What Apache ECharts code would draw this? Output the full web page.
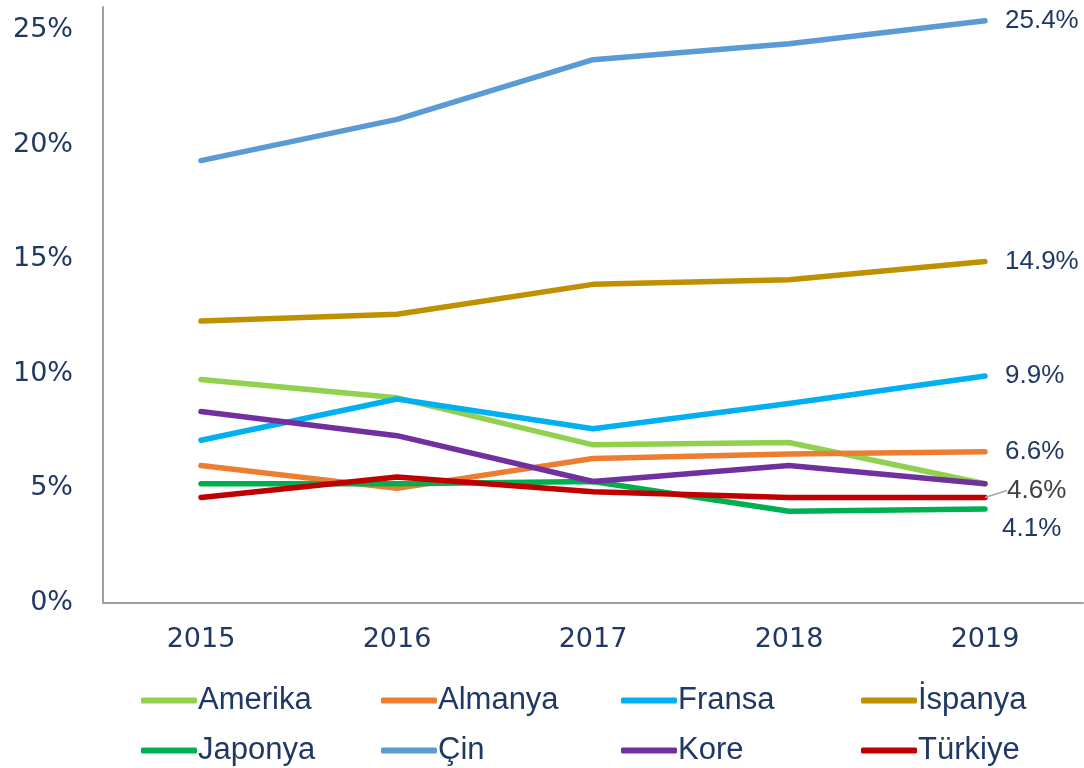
<!DOCTYPE html>
<html>
<head>
<meta charset="utf-8">
<script src="https://cdn.jsdelivr.net/npm/echarts@6/dist/echarts.min.js"></script>
<style>html,body{margin:0;padding:0;background:#fff;}#c{width:1084px;height:768px;}</style>
</head>
<body>
<div id="c"></div>
<script>
const years = ['2015', '2016', '2017', '2018', '2019'];
const seriesNames = ['Amerika', 'Almanya', 'Fransa', 'İspanya', 'Japonya', 'Çin', 'Kore', 'Türkiye'];
const amerika = [9.75, 8.95, 6.9, 7.0, 5.2];
const almanya = [6.0, 5.0, 6.3, 6.5, 6.6];
const fransa  = [7.1, 8.9, 7.6, 8.7, 9.9];
const ispanya = [12.3, 12.6, 13.9, 14.1, 14.9];
const japonya = [5.2, 5.2, 5.3, 4.0, 4.1];
const cin     = [19.3, 21.1, 23.7, 24.4, 25.4];
const kore    = [8.35, 7.3, 5.3, 6.0, 5.2];
const turkiye = [4.6, 5.5, 4.85, 4.6, 4.6];
const yTicks = [0, 5, 10, 15, 20, 25];

const values = [amerika, almanya, fransa, ispanya, japonya, cin, kore, turkiye];
const colors = ['#92D050', '#ED7D31', '#00B0F0', '#BF9000', '#00B050', '#5B9BD5', '#7030A0', '#C00000'];
const labelled = {
  'İspanya': {},
  'Fransa': {},
  'Almanya': {},
  'Çin': {},
  'Japonya': { dy: 20, dx: -3 },
  'Türkiye': { dy: -7, dx: 2, color: '#404040', line: true }
};
const navy = '#1F3864';

const series = seriesNames.map((name, si) => {
  const vals = values[si];
  const last = vals.length - 1;
  const lab = labelled[name];
  const data = vals.map((v, i) => {
    if (lab && i === last) {
      return {
        value: v,
        label: {
          show: true,
          position: 'right',
          distance: 20,
          formatter: (p) => p.value.toFixed(1) + '%',
          color: lab.color || navy,
          fontFamily: 'Liberation Sans, Arial, sans-serif',
          fontSize: 26
        }
      };
    }
    return v;
  });
  const s = {
    name: name,
    type: 'line',
    data: data,
    symbol: 'circle',
    symbolSize: 0.01,
    showSymbol: true,
    smooth: false,
    lineStyle: { width: 5.5, color: colors[si], cap: 'round', join: 'round' },
    itemStyle: { color: colors[si] },
    emphasis: { disabled: true },
    animation: false,
    labelLayout: { hideOverlap: false, moveOverlap: false, dx: lab ? (lab.dx || 0) : 0, dy: lab ? (lab.dy || 0) : 0 }
  };
  if (lab && lab.line) {
    s.labelLine = { show: true, length2: 0, smooth: false, lineStyle: { color: '#A6A6A6', width: 1.5 } };
  }
  return s;
});

const legends = seriesNames.map((name, i) => ({
  icon: 'roundRect',
  itemWidth: 56,
  itemHeight: 6,
  itemGap: 0,
  left: 136 + (i % 4) * 240,
  top: i < 4 ? 680 : 730,
  data: [name],
  textStyle: {
    color: navy,
    fontFamily: 'Liberation Sans, Arial, sans-serif',
    fontSize: 31,
    padding: [0, 0, 0, -4]
  },
  selectedMode: false
}));

const chart = echarts.init(document.getElementById('c'), null, { renderer: 'canvas' });
chart.setOption({
  backgroundColor: '#ffffff',
  animation: false,
  color: colors,
  grid: { left: 103, right: 1, top: 7, bottom: 165, containLabel: false },
  legend: legends,
  xAxis: {
    type: 'category',
    data: years,
    boundaryGap: true,
    axisLine: { show: true, lineStyle: { color: '#A0A0A0', width: 2 } },
    axisTick: { show: false },
    axisLabel: { color: navy, fontFamily: 'DejaVu Sans, sans-serif', fontSize: 27, margin: 23 },
    splitLine: { show: false }
  },
  yAxis: {
    type: 'value',
    min: 0,
    max: 26,
    interval: 5,
    axisLine: { show: true, lineStyle: { color: '#A0A0A0', width: 2 } },
    axisTick: { show: false },
    splitLine: { show: false },
    axisLabel: {
      color: navy,
      fontFamily: 'DejaVu Sans, sans-serif',
      fontSize: 27,
      margin: 30,
      formatter: (v) => yTicks.indexOf(v) >= 0 ? v + '%' : ''
    }
  },
  series: series
});
</script>
</body>
</html>
